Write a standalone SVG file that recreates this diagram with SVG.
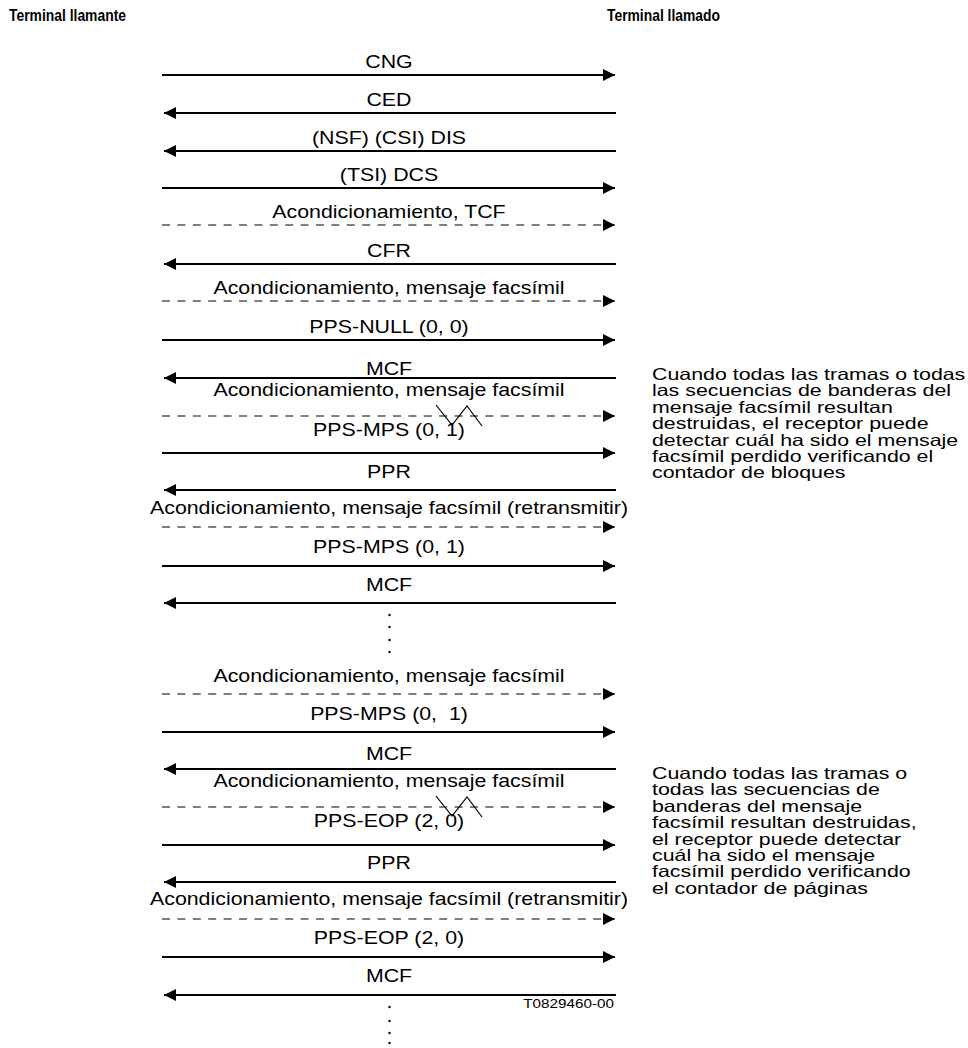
<svg xmlns="http://www.w3.org/2000/svg" width="968" height="1048" viewBox="0 0 968 1048">
<style>
text{font-family:"Liberation Sans",Arial,sans-serif;fill:#000}
.hdr{font-size:16px;font-weight:bold}
.lbl{font-size:17.5px;text-anchor:middle}
.par{font-size:16.5px}
.ref{font-size:12.5px;text-anchor:end}
.s{stroke:#000;stroke-width:2;fill:none}
.d{stroke:#000;stroke-width:1.2;fill:none;stroke-dasharray:8 7.4}
.z{stroke:#000;stroke-width:1.2;fill:none}
</style>
<defs>
<marker id="ah" viewBox="0 0 12 12" refX="12" refY="6" markerWidth="12" markerHeight="12" markerUnits="userSpaceOnUse" orient="auto">
<path d="M0,0 L12,6 L0,12 z" fill="#000"/>
</marker>
</defs>
<rect width="968" height="1048" fill="#fff"/>
<g id="caller"><text class="hdr" x="9" y="21" textLength="117" lengthAdjust="spacingAndGlyphs">Terminal llamante</text></g>
<g id="called"><text class="hdr" x="607" y="21" textLength="113" lengthAdjust="spacingAndGlyphs">Terminal llamado</text></g>
<g id="connectors">
<line class="s" x1="162" y1="75" x2="615" y2="75" marker-end="url(#ah)"/>
<line class="s" x1="616" y1="113" x2="164" y2="113" marker-end="url(#ah)"/>
<line class="s" x1="616" y1="151" x2="164" y2="151" marker-end="url(#ah)"/>
<line class="s" x1="162" y1="188" x2="615" y2="188" marker-end="url(#ah)"/>
<line class="d" x1="162" y1="225" x2="615" y2="225" marker-end="url(#ah)"/>
<line class="s" x1="616" y1="264" x2="164" y2="264" marker-end="url(#ah)"/>
<line class="d" x1="162" y1="301" x2="615" y2="301" marker-end="url(#ah)"/>
<line class="s" x1="162" y1="340" x2="615" y2="340" marker-end="url(#ah)"/>
<line class="s" x1="616" y1="378" x2="164" y2="378" marker-end="url(#ah)"/>
<line class="d" x1="162" y1="416" x2="615" y2="416" marker-end="url(#ah)"/>
<polyline class="z" points="436,405 452,425 467,406 482,426"/>
<line class="s" x1="162" y1="453" x2="615" y2="453" marker-end="url(#ah)"/>
<line class="s" x1="616" y1="490" x2="164" y2="490" marker-end="url(#ah)"/>
<line class="d" x1="162" y1="527" x2="615" y2="527" marker-end="url(#ah)"/>
<line class="s" x1="162" y1="566" x2="615" y2="566" marker-end="url(#ah)"/>
<line class="s" x1="616" y1="603" x2="164" y2="603" marker-end="url(#ah)"/>
<g fill="#000"><circle cx="389.5" cy="615" r="1.2"/><circle cx="389.5" cy="627" r="1.2"/><circle cx="389.5" cy="640" r="1.2"/><circle cx="389.5" cy="652" r="1.2"/></g>
<line class="d" x1="162" y1="694" x2="615" y2="694" marker-end="url(#ah)"/>
<line class="s" x1="162" y1="732" x2="615" y2="732" marker-end="url(#ah)"/>
<line class="s" x1="616" y1="769" x2="164" y2="769" marker-end="url(#ah)"/>
<line class="d" x1="162" y1="807" x2="615" y2="807" marker-end="url(#ah)"/>
<polyline class="z" points="436,796 452,816 467,797 482,817"/>
<line class="s" x1="162" y1="845" x2="615" y2="845" marker-end="url(#ah)"/>
<line class="s" x1="616" y1="882" x2="164" y2="882" marker-end="url(#ah)"/>
<line class="d" x1="162" y1="919" x2="615" y2="919" marker-end="url(#ah)"/>
<line class="s" x1="162" y1="957" x2="615" y2="957" marker-end="url(#ah)"/>
<line class="s" x1="616" y1="995" x2="164" y2="995" marker-end="url(#ah)"/>
<g fill="#000"><circle cx="389.5" cy="1007" r="1.2"/><circle cx="389.5" cy="1021" r="1.2"/><circle cx="389.5" cy="1033" r="1.2"/><circle cx="389.5" cy="1043" r="1.2"/></g>
</g>
<g id="labels">
<text class="lbl" transform="translate(389,68) scale(1.22,1)">CNG</text>
<text class="lbl" transform="translate(389,106) scale(1.22,1)">CED</text>
<text class="lbl" transform="translate(389,144) scale(1.22,1)">(NSF) (CSI) DIS</text>
<text class="lbl" transform="translate(389,181) scale(1.22,1)">(TSI) DCS</text>
<text class="lbl" transform="translate(389,218) scale(1.22,1)">Acondicionamiento, TCF</text>
<text class="lbl" transform="translate(389,257) scale(1.22,1)">CFR</text>
<text class="lbl" transform="translate(389,294) scale(1.22,1)">Acondicionamiento, mensaje facsímil</text>
<text class="lbl" transform="translate(389,333) scale(1.22,1)">PPS-NULL (0, 0)</text>
<text class="lbl" transform="translate(389,375) scale(1.22,1)">MCF</text>
<text class="lbl" transform="translate(389,396) scale(1.22,1)">Acondicionamiento, mensaje facsímil</text>
<text class="lbl" transform="translate(389,436) scale(1.22,1)">PPS-MPS (0, 1)</text>
<text class="lbl" transform="translate(389,478) scale(1.22,1)">PPR</text>
<text class="lbl" transform="translate(389,514) scale(1.22,1)">Acondicionamiento, mensaje facsímil (retransmitir)</text>
<text class="lbl" transform="translate(389,553) scale(1.22,1)">PPS-MPS (0, 1)</text>
<text class="lbl" transform="translate(389,591) scale(1.22,1)">MCF</text>
<text class="lbl" transform="translate(389,682) scale(1.22,1)">Acondicionamiento, mensaje facsímil</text>
<text class="lbl" transform="translate(389,720) scale(1.22,1)" xml:space="preserve">PPS-MPS (0,  1)</text>
<text class="lbl" transform="translate(389,760) scale(1.22,1)">MCF</text>
<text class="lbl" transform="translate(389,787) scale(1.22,1)">Acondicionamiento, mensaje facsímil</text>
<text class="lbl" transform="translate(389,827) scale(1.22,1)">PPS-EOP (2, 0)</text>
<text class="lbl" transform="translate(389,869) scale(1.22,1)">PPR</text>
<text class="lbl" transform="translate(389,905) scale(1.22,1)">Acondicionamiento, mensaje facsímil (retransmitir)</text>
<text class="lbl" transform="translate(389,944) scale(1.22,1)">PPS-EOP (2, 0)</text>
<text class="lbl" transform="translate(389,982) scale(1.22,1)">MCF</text>
</g>
<g id="note1" transform="translate(652,0) scale(1.294,1)">
<text class="par" x="0" y="380">Cuando todas las tramas o todas</text>
<text class="par" x="0" y="396">las secuencias de banderas del</text>
<text class="par" x="0" y="413">mensaje facsímil resultan</text>
<text class="par" x="0" y="429">destruidas, el receptor puede</text>
<text class="par" x="0" y="446">detectar cuál ha sido el mensaje</text>
<text class="par" x="0" y="462">facsímil perdido verificando el</text>
<text class="par" x="0" y="478">contador de bloques</text>
</g>
<g id="note2" transform="translate(652,0) scale(1.294,1)">
<text class="par" x="0" y="779">Cuando todas las tramas o</text>
<text class="par" x="0" y="795">todas las secuencias de</text>
<text class="par" x="0" y="812">banderas del mensaje</text>
<text class="par" x="0" y="828">facsímil resultan destruidas,</text>
<text class="par" x="0" y="845">el receptor puede detectar</text>
<text class="par" x="0" y="861">cuál ha sido el mensaje</text>
<text class="par" x="0" y="877">facsímil perdido verificando</text>
<text class="par" x="0" y="894">el contador de páginas</text>
</g>
<g id="figref"><text class="ref" transform="translate(614,1008) scale(1.22,1)">T0829460-00</text></g>
</svg>
